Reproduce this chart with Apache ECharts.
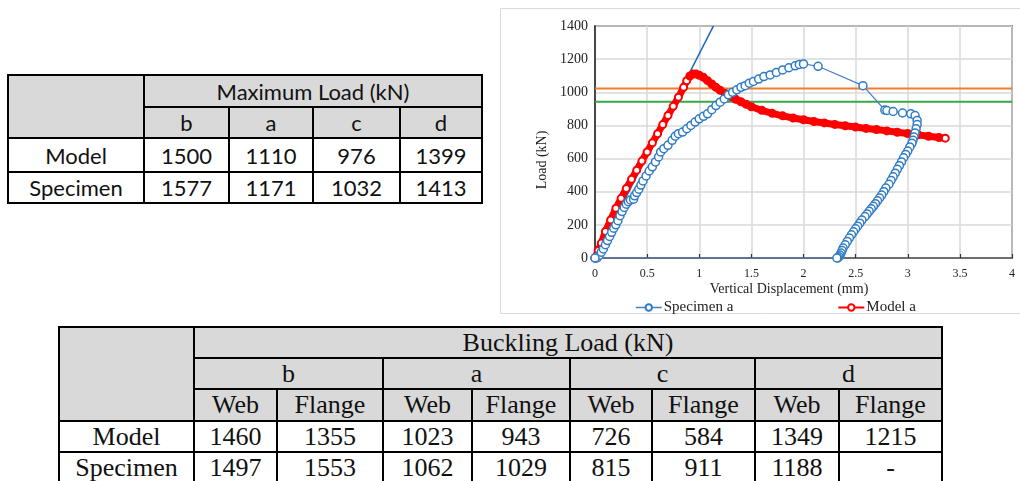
<!DOCTYPE html>
<html><head><meta charset="utf-8">
<script src="https://cdn.jsdelivr.net/npm/echarts@6/dist/echarts.min.js"></script>
<style>
html,body{margin:0;padding:0;background:#fff;width:1020px;height:481px;overflow:hidden;}
#chart{position:absolute;left:0;top:0;width:1020px;height:481px;}
.tbl{position:absolute;background:#000;}
.cell{position:absolute;display:flex;align-items:center;justify-content:center;white-space:nowrap;overflow:hidden;background:#fff;color:#111;}
.gray{background:#d9d9d9;}
</style>
</head><body>
<div id="chart"></div>
<div id="tables"></div>
<script>
// ---------- DATA ----------
const caseNames = ['b', 'a', 'c', 'd'];
const rowNames = ['Model', 'Specimen'];
const maxLoadTitle = 'Maximum Load (kN)';
const maxLoadModel = [1500, 1110, 976, 1399];
const maxLoadSpecimen = [1577, 1171, 1032, 1413];

const bucklingTitle = 'Buckling Load (kN)';
const partNames = ['Web', 'Flange'];
const bucklingModel = [1460, 1355, 1023, 943, 726, 584, 1349, 1215];
const bucklingSpecimen = [1497, 1553, 1062, 1029, 815, 911, 1188, '-'];

const xAxisName = 'Vertical Displacement (mm)';
const yAxisName = 'Load (kN)';
const specimenName = 'Specimen a';
const modelName = 'Model a';

// Specimen a : [displacement mm, load kN]
const specimenA = [
 [0,0],[0.02,0],[0.04,15],[0.06,35],[0.08,55],[0.10,80],[0.12,105],[0.14,130],[0.16,155],[0.18,180],
 [0.20,200],[0.22,225],[0.24,255],[0.26,280],[0.28,305],[0.30,325],[0.32,340],[0.34,350],[0.37,355],
 [0.38,375],[0.40,395],[0.42,415],[0.44,440],[0.46,465],[0.49,495],[0.52,525],[0.55,550],[0.58,580],
 [0.61,610],[0.63,640],[0.66,660],[0.70,680],[0.74,710],[0.77,735],[0.80,750],[0.84,760],[0.88,780],
 [0.92,800],[0.96,820],[1.00,840],[1.04,855],[1.08,870],[1.12,895],[1.16,920],[1.20,940],[1.24,960],
 [1.28,985],[1.32,1000],[1.36,1015],[1.40,1030],[1.44,1040],[1.48,1055],[1.52,1065],[1.57,1080],
 [1.62,1095],[1.68,1105],[1.74,1120],[1.80,1135],[1.86,1148],[1.92,1160],[1.96,1168],[2.00,1171],
 [2.14,1157],[2.57,1040],[2.78,893],[2.80,890],[2.86,884],[2.95,875],[3.03,870],[3.07,860],
 [3.09,830],[3.09,805],[3.08,780],[3.07,755],[3.06,730],[3.05,710],[3.04,692],[3.02,670],[3.00,645],
 [2.98,625],[2.96,605],[2.94,580],[2.92,557],[2.90,535],[2.88,512],[2.86,490],[2.84,468],[2.82,445],
 [2.79,422],[2.77,400],[2.75,380],[2.73,362],[2.71,345],[2.69,328],[2.67,312],[2.65,297],[2.63,282],
 [2.61,265],[2.59,250],[2.56,229],[2.54,210],[2.52,192],[2.50,176],[2.48,158],[2.46,140],[2.44,120],
 [2.42,100],[2.40,80],[2.38,60],[2.37,45],[2.36,30],[2.35,18],[2.34,8],[2.33,0],[2.32,0],[0,0]
];
// Model a : [displacement mm, load kN]
const modelA = [
 [0,0],[0.03,45],[0.06,90],[0.1,160],[0.15,230],[0.2,300],[0.25,360],[0.3,420],[0.35,475],[0.4,530],
 [0.45,585],[0.5,640],[0.55,695],[0.6,750],[0.65,805],[0.7,860],[0.75,915],[0.8,970],[0.85,1030],
 [0.88,1070],[0.91,1098],[0.94,1110],[0.97,1110],[1.0,1103],[1.04,1090],[1.08,1070],[1.12,1050],
 [1.16,1030],[1.2,1012],[1.25,992],[1.3,975],[1.35,958],[1.4,943],[1.45,928],[1.5,913],[1.6,891],
 [1.7,873],[1.8,858],[1.9,845],[2.0,834],[2.1,824],[2.2,815],[2.3,806],[2.4,798],[2.5,790],
 [2.6,782],[2.7,775],[2.8,767],[2.9,759],[3.0,751],[3.1,743],[3.2,735],[3.3,727],[3.36,723]
];
// initial stiffness line
const elasticLine = [[0,0],[1.136,1400]];
// buckling load levels of Model a (web, flange) from the table
const webLevel = bucklingModel[2];
const flangeLevel = bucklingModel[3];

const xMin = 0, xMax = 4, xStep = 0.5;
const yMin = 0, yMax = 1400, yStep = 200;

// ---------- TABLES ----------
function buildTable(colEdges, rowEdges, cells, font) {
  const host = document.getElementById('tables');
  const t = document.createElement('div');
  t.className = 'tbl';
  const x0 = colEdges[0], y0 = rowEdges[0];
  t.style.left = (x0 - 1) + 'px';
  t.style.top = (y0 - 1) + 'px';
  t.style.width = (colEdges[colEdges.length - 1] - x0 + 2) + 'px';
  t.style.height = (rowEdges[rowEdges.length - 1] - y0 + 2) + 'px';
  cells.forEach(c => {
    const d = document.createElement('div');
    d.className = 'cell' + (c.gray ? ' gray' : '');
    d.style.left = (colEdges[c.c0] - x0 + 2) + 'px';
    d.style.top = (rowEdges[c.r0] - y0 + 2) + 'px';
    d.style.width = (colEdges[c.c1] - colEdges[c.c0] - 2) + 'px';
    d.style.height = (rowEdges[c.r1] - rowEdges[c.r0] - 2) + 'px';
    d.style.fontFamily = font.family;
    d.style.fontSize = font.size + 'px';
    d.textContent = c.text;
    t.appendChild(d);
  });
  host.appendChild(t);
}

(function () {
  const cols = [8, 144, 229, 313, 400, 482];
  const rows = [75, 107, 138, 172, 203];
  const cells = [];
  cells.push({c0:0, c1:1, r0:0, r1:2, text:'', gray:true});
  cells.push({c0:1, c1:5, r0:0, r1:1, text:maxLoadTitle, gray:true});
  caseNames.forEach((n, i) => cells.push({c0:i+1, c1:i+2, r0:1, r1:2, text:n, gray:true}));
  [maxLoadModel, maxLoadSpecimen].forEach((arr, r) => {
    cells.push({c0:0, c1:1, r0:r+2, r1:r+3, text:rowNames[r]});
    arr.forEach((v, i) => cells.push({c0:i+1, c1:i+2, r0:r+2, r1:r+3, text:String(v)}));
  });
  buildTable(cols, rows, cells, {family:"Lato, 'Open Sans', sans-serif", size:22});
})();

(function () {
  const cols = [59, 194, 277, 383, 472, 570, 652, 755, 839, 942];
  const rows = [327, 358, 389, 421, 452, 484];
  const cells = [];
  cells.push({c0:0, c1:1, r0:0, r1:3, text:'', gray:true});
  cells.push({c0:1, c1:9, r0:0, r1:1, text:bucklingTitle, gray:true});
  caseNames.forEach((n, i) => {
    cells.push({c0:2*i+1, c1:2*i+3, r0:1, r1:2, text:n, gray:true});
    partNames.forEach((p, j) => cells.push({c0:2*i+1+j, c1:2*i+2+j, r0:2, r1:3, text:p, gray:true}));
  });
  [bucklingModel, bucklingSpecimen].forEach((arr, r) => {
    cells.push({c0:0, c1:1, r0:r+3, r1:r+4, text:rowNames[r]});
    arr.forEach((v, i) => cells.push({c0:i+1, c1:i+2, r0:r+3, r1:r+4, text:String(v)}));
  });
  buildTable(cols, rows, cells, {family:"'Liberation Serif', 'Times New Roman', serif", size:26});
})();

// ---------- CHART ----------
const serif = "'Liberation Serif', 'Times New Roman', serif";
const chart = echarts.init(document.getElementById('chart'), null, {renderer:'canvas'});
const gridLine = {show:true, lineStyle:{color:'#d9d9d9', width:1.5}};
const redHollow = {color:'#ffffff', borderColor:'#ff0000', borderWidth:2};
const redSolid = {color:'#ff0000', borderColor:'#ff0000', borderWidth:2};
// markers on the rising branch and the last point show hollow; the dense softening branch reads as solid red
const modelData = modelA.map((p, i) => ({
  value:p,
  itemStyle:(p[0] < 0.9 || i === modelA.length - 1) ? redHollow : redSolid
}));
chart.setOption({
  animation:false,
  backgroundColor:'transparent',
  grid:{left:595, right:8, top:26, bottom:223, show:true, borderColor:'#222', borderWidth:1.5, backgroundColor:'transparent'},
  xAxis:{
    type:'value', min:xMin, max:xMax, interval:xStep,
    axisLine:{show:true, onZero:false, lineStyle:{color:'#555', width:1.5}},
    axisTick:{show:true, inside:true, length:4, lineStyle:{color:'#333', width:1.2}},
    splitLine:gridLine,
    axisLabel:{fontFamily:serif, fontSize:12, color:'#222', margin:10, showMinLabel:true, showMaxLabel:true,
      formatter:v => String(v)}
  },
  yAxis:{
    type:'value', min:yMin, max:yMax, interval:yStep,
    axisLine:{show:true, lineStyle:{color:'#222', width:1.5}},
    axisTick:{show:false},
    splitLine:gridLine,
    axisLabel:{fontFamily:serif, fontSize:14, color:'#222', margin:7, showMinLabel:true, showMaxLabel:true,
      formatter:v => String(v)}
  },
  legend:{
    left:630, top:295, itemGap:104, itemWidth:26, itemHeight:8,
    textStyle:{fontFamily:serif, fontSize:15, color:'#222', padding:[0,0,0,-3]},
    data:[
      {name:specimenName, lineStyle:{width:1.5}},
      {name:modelName, lineStyle:{width:2}, itemStyle:redHollow}
    ]
  },
  graphic:[
    {type:'rect', silent:true, z:-10, shape:{x:500.5, y:8.5, width:530, height:305}, style:{fill:'none', stroke:'#d9d9d9', lineWidth:1}},
    {type:'text', silent:true, x:542, y:160, rotation:Math.PI/2,
      style:{text:yAxisName, font:"14px " + serif, fill:'#222', align:'center', verticalAlign:'middle'}},
    {type:'text', silent:true, x:789, y:289,
      style:{text:xAxisName, font:"14px " + serif, fill:'#222', align:'center', verticalAlign:'middle'}}
  ],
  series:[
    {name:'web', type:'line', silent:true, symbol:'none', data:[[xMin, webLevel],[xMax, webLevel]],
      lineStyle:{color:'#ed7d31', width:2}},
    {name:'flange', type:'line', silent:true, symbol:'none', data:[[xMin, flangeLevel],[xMax, flangeLevel]],
      lineStyle:{color:'#38a841', width:2}},
    {name:'elastic', type:'line', silent:true, symbol:'none', data:elasticLine,
      lineStyle:{color:'#1a66b8', width:1.6}},
    {name:modelName, type:'line', data:modelData, symbol:'circle', symbolSize:7, showAllSymbol:true,
      lineStyle:{color:'#ff0000', width:7},
      itemStyle:redHollow},
    {name:specimenName, type:'line', data:specimenA, symbol:'circle', symbolSize:8, showAllSymbol:true,
      lineStyle:{color:'#4a7fc8', width:1.2},
      itemStyle:{color:'#ffffff', borderColor:'#2f7bc4', borderWidth:1.5}}
  ]
});
</script>
</body></html>
